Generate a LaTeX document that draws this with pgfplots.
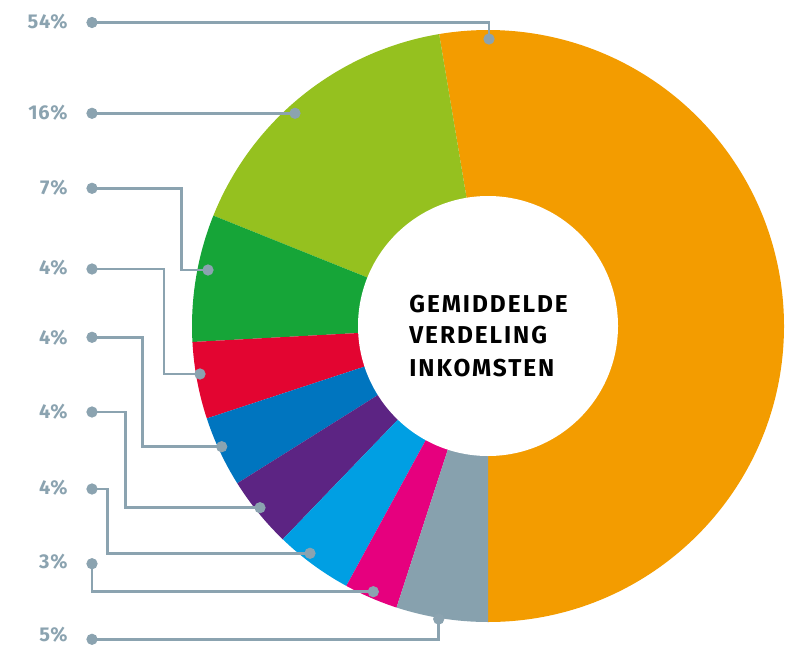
\documentclass[border=0pt]{standalone}
\usepackage{pgfplots}
\pgfplotsset{compat=1.18}
\usepackage{fontspec}
\setmainfont{Fira Sans}
\newfontfamily\titlefont[LetterSpace=8]{Fira Sans}
\newfontfamily\pctfont[LetterSpace=4]{Fira Sans}

\definecolor{cOrange}{HTML}{F39C00}
\definecolor{cLime}{HTML}{95C11F}
\definecolor{cGreen}{HTML}{16A538}
\definecolor{cRed}{HTML}{E30531}
\definecolor{cBlue}{HTML}{0075BF}
\definecolor{cPurple}{HTML}{5C2483}
\definecolor{cCyan}{HTML}{009FE3}
\definecolor{cMagenta}{HTML}{E6007E}
\definecolor{cGrey}{HTML}{87A1AE}
\definecolor{lead}{HTML}{8BA3B0}

% one slice of the ring: start angle, end angle, colour
\newcommand{\slice}[3]{%
  \fill[#3] (axis cs:488,318) -- ++(#1:148pt) arc[start angle=#1, end angle=#2, radius=148pt] -- cycle;}

\begin{document}
\begin{tikzpicture}
\begin{axis}[
  x=0.5pt, y=0.5pt,
  xmin=0, xmax=792, ymin=0, ymax=644,
  hide axis,
  clip=false,
]
% slice shares as read: 52.6 16.3 6.9 4.2 3.9 3.9 4.25 2.9 5.0 (%)
\slice{-90}{99.5}{cOrange}
\slice{99.5}{158.1}{cLime}
\slice{158.1}{183.1}{cGreen}
\slice{183.1}{198.2}{cRed}
\slice{198.2}{212.1}{cBlue}
\slice{212.1}{226.1}{cPurple}
\slice{226.1}{241.4}{cCyan}
\slice{241.4}{252}{cMagenta}
\slice{252}{270}{cGrey}
\fill[white] (axis cs:488,318) circle[radius=65pt];

% leader lines
\addplot[lead, line width=1.3pt] coordinates {(92,621.5) (489,621.5) (489,605)};
\addplot[lead, line width=1.3pt] coordinates {(92,530.7) (295,530.7)};
\addplot[lead, line width=1.3pt] coordinates {(92,455.7) (181.7,455.7) (181.7,374) (208,374)};
\addplot[lead, line width=1.3pt] coordinates {(92,375) (164,375) (164,270) (200,270)};
\addplot[lead, line width=1.3pt] coordinates {(92,306.7) (142.7,306.7) (142.7,197.3) (221.7,197.3)};
\addplot[lead, line width=1.3pt] coordinates {(92,232) (125.7,232) (125.7,136.3) (260,136.3)};
\addplot[lead, line width=1.3pt] coordinates {(92,155) (107.7,155) (107.7,90.7) (310,90.7)};
\addplot[lead, line width=1.3pt] coordinates {(92,80.3) (92,52.3) (373.3,52.3)};
\addplot[lead, line width=1.3pt] coordinates {(92,4.7) (438.7,4.7) (438.7,25)};
\addplot[only marks, mark=*, mark size=2.6pt, color=lead] coordinates {
  (92,621.5) (489,605) (92,530.7) (295,530.7) (92,455.7) (208,374)
  (92,375) (200,270) (92,306.7) (221.7,197.3) (92,232) (260,136.3)
  (92,155) (310,90.7) (92,80.3) (373.3,52.3) (92,4.7) (438.7,25)};

% percentages
\begin{scope}[every node/.style={anchor=east, text=lead, font=\pctfont\fontsize{10}{12}\selectfont\bfseries, inner sep=0pt}]
\node at (axis cs:68,622) {54\%};
\node at (axis cs:68,531) {16\%};
\node at (axis cs:68,456) {7\%};
\node at (axis cs:68,376) {4\%};
\node at (axis cs:68,306) {4\%};
\node at (axis cs:68,232) {4\%};
\node at (axis cs:68,156) {4\%};
\node at (axis cs:68,82) {3\%};
\node at (axis cs:68,9) {5\%};
\end{scope}

% centre title
\begin{scope}[every node/.style={anchor=base west, font=\titlefont\fontsize{12.2}{14}\selectfont\bfseries, inner sep=0pt}]
\node at (axis cs:409,331.3) {GEMIDDELDE};
\node at (axis cs:409,300.7) {VERDELING};
\node at (axis cs:409,267.3) {INKOMSTEN};
\end{scope}
\end{axis}
\pgfresetboundingbox
\path[use as bounding box] (current axis.south west) rectangle (current axis.north east);
\end{tikzpicture}
\end{document}
